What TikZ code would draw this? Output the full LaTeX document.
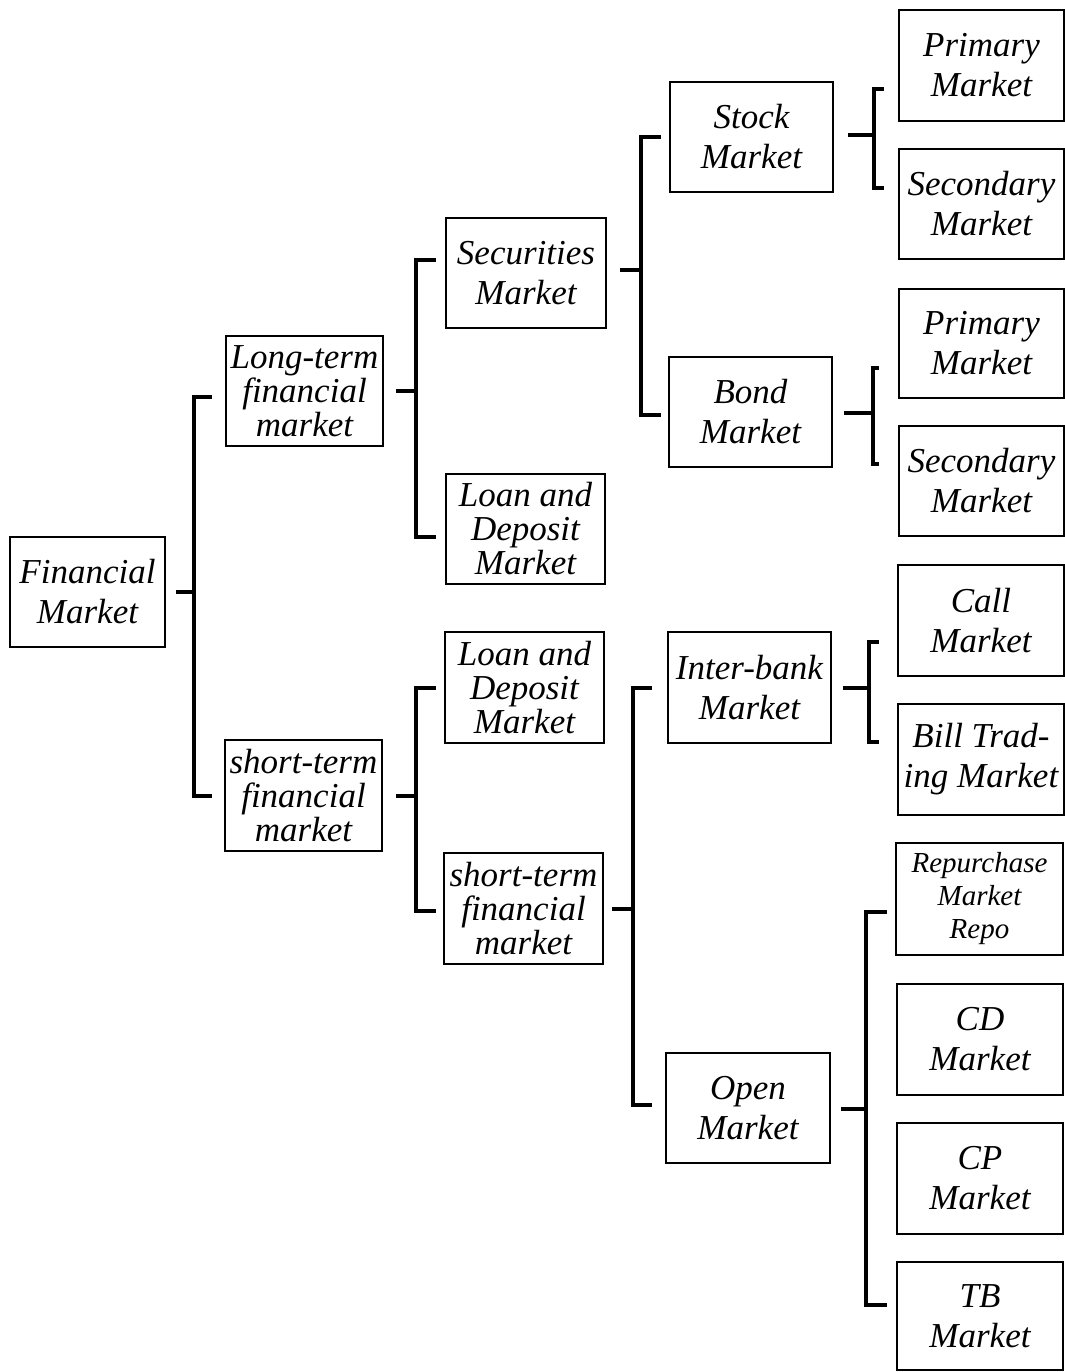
\documentclass[tikz,border=0pt]{standalone}
\usepackage{fontspec}
\setmainfont{Liberation Serif}
\usetikzlibrary{calc}
\begin{document}
\begin{tikzpicture}[x=0.5pt,y=-0.5pt,
  box/.style={draw, line width=1.1pt, inner sep=0pt, align=center,
    font=\fontsize{17.5}{20}\selectfont\itshape},
  three/.style={font=\fontsize{17.5}{17}\selectfont\itshape},
  small/.style={font=\fontsize{14.5}{16.5}\selectfont\itshape},
  br/.style={line width=2pt}]
\useasboundingbox (0,0) rectangle (1065,1372);
% column 1
\node[box, minimum width=77.5pt, minimum height=55pt] (fm) at (87.5,592) {Financial\\Market};
% column 2
\node[box, three, minimum width=78.5pt, minimum height=55pt] (lt) at (304.5,391) {Long-term\\financial\\market};
\node[box, three, minimum width=78.5pt, minimum height=55.5pt] (st) at (303.5,795.5) {short-term\\financial\\market};
% column 3
\node[box, minimum width=80pt, minimum height=55pt] (sec) at (526,273) {Securities\\Market};
\node[box, three, minimum width=79.5pt, minimum height=55pt] (ld1) at (525.5,529) {Loan and\\Deposit\\Market};
\node[box, three, minimum width=79.5pt, minimum height=55.5pt] (ld2) at (524.5,687.5) {Loan and\\Deposit\\Market};
\node[box, three, minimum width=79.5pt, minimum height=55.5pt] (st2) at (523.5,908.5) {short-term\\financial\\market};
% column 4
\node[box, minimum width=81.5pt, minimum height=55pt] (stock) at (751.5,137) {Stock\\Market};
\node[box, minimum width=81.5pt, minimum height=55pt] (bond) at (750.5,412) {Bond\\Market};
\node[box, minimum width=81.5pt, minimum height=55.5pt] (inter) at (749.5,687.5) {Inter-bank\\Market};
\node[box, minimum width=82pt, minimum height=55pt] (open) at (748,1108) {Open\\Market};
% column 5
\node[box, minimum width=82.5pt, minimum height=55.5pt] (p1) at (981.5,65.5) {Primary\\Market};
\node[box, minimum width=82.5pt, minimum height=55pt] (s1) at (981.5,204) {Secondary\\Market};
\node[box, minimum width=82.5pt, minimum height=54.5pt] (p2) at (981.5,343.5) {Primary\\Market};
\node[box, minimum width=82.5pt, minimum height=55pt] (s2) at (981.5,481) {Secondary\\Market};
\node[box, minimum width=83pt, minimum height=55.5pt] (call) at (981,620.5) {Call\\Market};
\node[box, minimum width=83pt, minimum height=55.5pt] (bill) at (981,759.5) {Bill Trad-\\ing Market};
\node[box, small, minimum width=83.5pt, minimum height=56pt] (repo) at (979.5,899) {Repurchase\\Market\\Repo};
\node[box, minimum width=83pt, minimum height=55.5pt] (cd) at (980,1039.5) {CD\\Market};
\node[box, minimum width=83pt, minimum height=55.5pt] (cp) at (980,1178.5) {CP\\Market};
\node[box, minimum width=83pt, minimum height=54pt] (tb) at (980,1316) {TB\\Market};
% brackets
% Financial Market
\draw[br] ($(fm.east)+(10,0)$) -- ($(fm.east)+(28,0)$);
\draw[br] ($(lt.west)+(-13,6)$) -| ($(fm.east)+(28,0)$) |- ($(st.west)+(-12,0)$);
% Long-term
\draw[br] ($(lt.east)+(12,0)$) -- ($(lt.east)+(32,0)$);
\draw[br] ($(sec.west)+(-9,-13)$) -| ($(lt.east)+(32,0)$) |- ($(ld1.west)+(-9,8)$);
% short-term
\draw[br] ($(st.east)+(13,0)$) -- ($(st.east)+(33,0)$);
\draw[br] ($(ld2.west)+(-8,0)$) -| ($(st.east)+(33,0)$) |- ($(st2.west)+(-7,2)$);
% Securities
\draw[br] ($(sec.east)+(13,-3)$) -- ($(sec.east)+(34,-3)$);
\draw[br] ($(stock.west)+(-8,0)$) -| ($(sec.east)+(34,-3)$) |- ($(bond.west)+(-7,3)$);
% short-term (middle)
\draw[br] ($(st2.east)+(8,0)$) -- ($(st2.east)+(29,0)$);
\draw[br] ($(inter.west)+(-15,0)$) -| ($(st2.east)+(29,0)$) |- ($(open.west)+(-13,-3)$);
% Stock
\draw[br] ($(stock.east)+(14,-2)$) -- ($(stock.east)+(40,-2)$);
\draw[br] ($(p1.west)+(-14,23.5)$) -| ($(stock.east)+(40,-2)$) |- ($(s1.west)+(-14,-16)$);
% Bond
\draw[br] ($(bond.east)+(11,1)$) -- ($(bond.east)+(40,1)$);
\draw[br] ($(p2.west)+(-19,24.5)$) -| ($(bond.east)+(40,1)$) |- ($(s2.west)+(-19,-17)$);
% Inter-bank
\draw[br] ($(inter.east)+(11,0.5)$) -- ($(inter.east)+(37,0.5)$);
\draw[br] ($(call.west)+(-18,21.5)$) -| ($(inter.east)+(37,0.5)$) |- ($(bill.west)+(-18,-17.5)$);
% Open
\draw[br] ($(open.east)+(10,1)$) -- ($(open.east)+(35,1)$);
\draw[br] ($(repo.west)+(-8,13)$) -| ($(open.east)+(35,1)$) |- ($(tb.west)+(-9,-11)$);
\end{tikzpicture}
\end{document}
